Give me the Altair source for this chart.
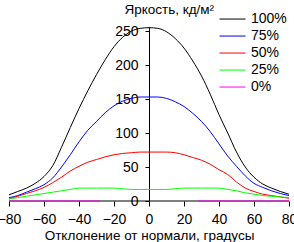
import altair as alt
import pandas as pd

# ---- data ----
ANGLES = [-80, -75, -70, -65, -60, -55, -50, -45, -40, -35, -30, -25, -20, -15, -10, -5,
          0, 5, 10, 15, 20, 25, 30, 35, 40, 45, 50, 55, 60, 65, 70, 75, 80]
L100 = [9, 14, 19, 26, 36, 52, 79, 108, 136, 162, 186, 208, 227, 241, 250, 254,
        255, 254, 249, 239, 225, 206, 184, 157, 127, 100, 72, 50, 35, 25, 19, 14, 10]
L75 = [5, 8, 13, 18, 24, 34, 50, 68, 87, 104, 117, 130, 140, 147, 151, 153,
       153, 153, 151, 146, 139, 129, 117, 102, 84, 66, 51, 37, 26, 20, 15, 11, 8]
L50 = [3, 7, 11, 15, 20, 27, 35, 44, 51, 57, 61, 65, 68, 70, 71, 72,
       72, 72, 72, 71, 68, 64, 60, 54, 46, 39, 28, 19, 14, 10, 8, 6, 4]
L25 = [3, 5, 7, 9, 11, 13, 15, 17, 19, 19, 19, 19, 19, 18, 17, 17,
       17, 17, 17, 18, 19, 19, 19, 19, 19, 17, 15, 12, 10, 8, 7, 6, 5]
L0_ANGLES = [-80, -28, 28, 80]
L0 = [0, 0, 0, 0]
L0_SEG = ["a", "a", "b", "b"]

SERIES = ["100%", "75%", "50%", "25%", "0%"]
COLORS = ["#000000", "#0000ff", "#ff0000", "#00ff00", "#ff00ff"]
WIDTHS = [1, 1, 1.6, 2, 2]

X_DOMAIN = [-80, 80]
Y_DOMAIN = [0, 256]
X_TICKS = [-80, -60, -40, -20, 0, 20, 40, 60, 80]
Y_TICKS = [0, 50, 100, 150, 200, 250]

rows = []
for name, vals in zip(SERIES[:4], [L100, L75, L50, L25]):
    for a, v in zip(ANGLES, vals):
        rows.append({"series": name, "angle": a, "value": v, "seg": name})
for a, v, s in zip(L0_ANGLES, L0, L0_SEG):
    rows.append({"series": "0%", "angle": a, "value": v, "seg": "0%" + s})
df = pd.DataFrame(rows)

axis_df = pd.DataFrame({"angle": [X_DOMAIN[0]], "angle2": [X_DOMAIN[1]], "value": [0]})

FONT = "Liberation Sans"

x_scale = alt.Scale(domain=X_DOMAIN, nice=False, zero=False)
y_scale = alt.Scale(domain=Y_DOMAIN, nice=False)

x_axis = alt.Axis(values=X_TICKS, title="Отклонение от нормали, градусы",
                  grid=False, tickSize=5, labelPadding=6, domain=False,
                  labelOverlap=False, labelFlush=False, labelBound=False,
                  titleY=38, titleBaseline="alphabetic", zindex=0)
y_axis = alt.Axis(orient="left", offset=-140, values=Y_TICKS,
                  title="Яркость, кд/м²", titleAngle=0,
                  titleAlign="left", titleBaseline="alphabetic",
                  titleX=-25, titleY=-14, grid=False,
                  labelOverlap=False, labelFlush=False,
                  tickSize=4, labelPadding=7, zindex=0)

axis_line = alt.Chart(axis_df).mark_rule(color="#000000", strokeWidth=1).encode(
    x=alt.X("angle:Q", scale=x_scale, axis=x_axis),
    x2="angle2:Q",
    y=alt.Y("value:Q", scale=y_scale, axis=y_axis),
)

lines = alt.Chart(df).mark_line(interpolate="monotone").encode(
    x=alt.X("angle:Q", scale=x_scale, axis=x_axis),
    y=alt.Y("value:Q", scale=y_scale, axis=y_axis),
    color=alt.Color("series:N",
                    scale=alt.Scale(domain=SERIES, range=COLORS),
                    legend=alt.Legend(orient="none", legendX=210, legendY=-16,
                                      title=None, symbolType="stroke",
                                      symbolSize=676, symbolStrokeWidth=1,
                                      labelFontSize=14, labelFont=FONT,
                                      labelOffset=5, clipHeight=16.1,
                                      rowPadding=0, padding=0,
                                      labelColor="#000000")),
    strokeWidth=alt.StrokeWidth("series:N",
                                scale=alt.Scale(domain=SERIES, range=WIDTHS),
                                legend=None),
    detail="seg:N",
)

chart = alt.layer(axis_line, lines).properties(
    width=280, height=174,
    autosize=alt.AutoSizeParams(type="none"),
    padding={"left": 9, "top": 27, "right": 5, "bottom": 41},
).configure_axis(
    labelFont=FONT, titleFont=FONT, labelFontSize=14, titleFontSize=13.5,
    titleFontWeight="normal", labelColor="#000000", titleColor="#000000",
    domainColor="#000000", tickColor="#000000", domainWidth=1, tickWidth=1,
).configure_view(stroke=None)

chart.save("out.html", embed_options={"renderer": "svg", "actions": False})
